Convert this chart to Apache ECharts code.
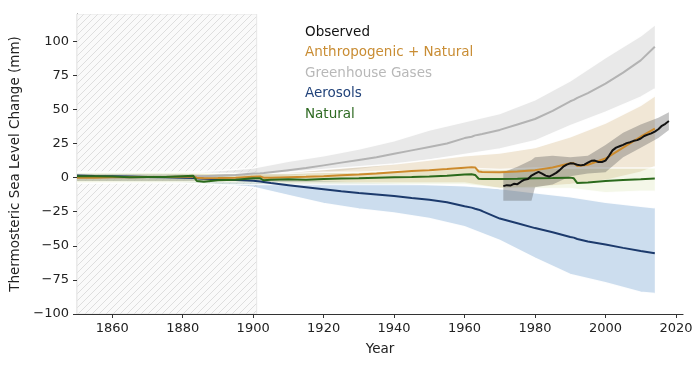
<!DOCTYPE html>
<html><head><meta charset="utf-8">
<script src="https://cdn.jsdelivr.net/npm/echarts@6/dist/echarts.min.js"></script>
<style>html,body{margin:0;padding:0;background:#fff}#c{width:700px;height:368px}</style>
</head><body><div id="c"></div>
<script>
// ---------- data ----------
const xTicks = [1860, 1880, 1900, 1920, 1940, 1960, 1980, 2000, 2020];
const yTicks = [-100, -75, -50, -25, 0, 25, 50, 75, 100];
const refPeriod = [1850, 1901];

const modelYears = [
  1850,1855,1860,1865,1870,1875,1880,1883,1884,1886,
  1890,1895,1900,1902,1903,1905,1910,1915,1920,1925,
  1930,1935,1940,1945,1950,1955,1960,1962,1963,1964,
  1965,1970,1975,1980,1985,1990,1991,1992,1995,2000,
  2005,2010,2014];
const ghgMean = [
  0,0,0,0,0.3,0.5,0.8,1,1,1,
  1.5,2,3,3.2,3.4,4,5.5,7,9,11,
  13,15,17.5,20,22.5,25,29,30,31,31.5,
  32,35,39,43,49,56,57,58.5,62,69,
  77,86,96];
const anthroMean = [
  0,0,0.2,0.3,0.5,0.5,0.7,0.8,0,-0.5,
  -0.3,0,0.6,0.8,0,0,0.3,0.6,1,1.8,
  2.3,3,4,4.8,5.5,6.3,7.3,7.7,7.5,4.5,
  4.2,4,4.5,5.5,7.5,10.5,10.5,8.5,9.5,14,
  22,30,36];
const aerosolMean = [
  1.5,1.2,1,0.8,0.5,0.3,0,-0.3,-0.5,-0.8,
  -1.2,-1.7,-2.3,-2.8,-3.2,-4,-5.5,-7,-8.5,-10,
  -11.2,-12.3,-13.5,-15,-16.3,-18,-21,-22,-22.8,-23.5,
  -24.5,-30,-33.5,-37,-40,-43.5,-44,-45,-46.8,-49,
  -51.5,-53.8,-55.5];
const naturalMean = [
  1,1,0.8,0.3,0.5,0.5,1,1.3,-2.5,-3,
  -2,-1.5,-0.5,-0.5,-2,-1.5,-1.2,-1.5,-1,-0.7,
  -0.5,0,0.3,0.5,0.8,1.3,2.3,2.5,2,-0.8,
  -1,-1,-0.8,-0.5,-0.3,0,-0.5,-4,-3.5,-2.5,
  -1.8,-1.2,-0.6];

const bandYears = [1850,1860,1870,1880,1890,1900,1910,1920,1930,1940,1950,1960,1970,1980,1990,2000,2010,2014];
const ghgHigh     = [4,4,4,4,5,7,12,16,21,27,35,41,47,57,71,88,104,112];
const ghgLow      = [-4,-4,-3,-3,-2,-1,1,3,6,9,13,17,21,27,38,48,59,65];
const anthroHigh  = [3,3,3,3,3,3,4,6,8,10,13,16,18,22,30,40,53,60];
const anthroLow   = [-3,-3,-3,-3,-3,-3,-4,-4,-4,-4,-4,-4,-8,-7,-5,-2,4,8];
const aerosolHigh = [4,3.5,3,3,2,0,-1,-2,-3,-4,-5,-6,-8,-11,-14,-18,-21,-22];
const aerosolLow  = [-3,-3,-3.5,-4,-5,-7,-13,-19,-23,-26,-30,-36,-46,-59,-71,-77,-84,-85];
const naturalHigh = [4,4,4,4,3,3,3,4,4,5,5,7,6,7,7,7,7,7];
const naturalLow  = [-4,-4,-4,-4,-5,-5,-5,-5,-5,-5,-5,-5,-8,-8,-8,-11,-10,-10];

const obsYears = [1971,1972,1973,1974,1975,1976,1977,1978,1979,1980,1981,1982,1983,1984,1985,1986,1987,1988,1989,1990,
  1991,1992,1993,1994,1995,1996,1997,1998,1999,2000,2001,2002,2003,2004,2005,2006,2007,2008,2009,2010,
  2011,2012,2013,2014,2015,2016,2017,2018];
const obsValues = [-6.2,-5.5,-5.8,-4.5,-4.8,-3,-1.5,-1,1.5,3,4.3,3,1.5,0.8,2,3.5,5.5,8,9.5,10.5,
  10.3,9.5,9,9.5,11,12.3,12.5,11.5,11.5,12.5,16,20,22,23,24,25.3,26,27,27.5,28.7,
  30.5,31.5,32.5,33.8,35.5,38,39.5,41.5];
const obsBandYears = [1971,1975,1979,1980,1985,1990,1995,2000,2005,2010,2015,2018];
const obsHigh = [4,8,13,15,16,15,16,24,33,39,44,48];
const obsLow  = [-17,-17,-17,-7,-5,1,3,4,15,22,29,35];

const legendItems = ['Observed', 'Anthropogenic + Natural', 'Greenhouse Gases', 'Aerosols', 'Natural'];
// ---------- styles ----------
const FONT = 'DejaVu Sans';
const C = {obs:'#111111', anthro:'#cc8a2c', ghg:'#b3b3b3', aer:'#1c3a6c', nat:'#2b6a1c'};
const legendColors = ['#111111', '#c98d34', '#b8b8b8', '#22437a', '#2e6a22'];

function pair(xs, ys) { return xs.map((x, i) => [x, ys[i]]); }
function bandSeries(xs, lo, hi, fill, edge) {
  return {
    type: 'custom', silent: true, clip: true,
    encode: {x: 0, y: [1, 2]},
    data: xs.map((x, i) => [x, lo[i], hi[i]]),
    renderItem(params, api) {
      if (params.dataIndex !== 0) return null;
      const up = [], dn = [];
      for (let i = 0; i < xs.length; i++) {
        up.push(api.coord([api.value(0, i), api.value(2, i)]));
        dn.push(api.coord([api.value(0, i), api.value(1, i)]));
      }
      const children = [{type: 'polygon', shape: {points: up.concat(dn.slice().reverse())}, style: {fill: fill}}];
      if (edge) {
        children.push({type: 'polyline', shape: {points: up}, style: {stroke: edge, lineWidth: 1.5, fill: null}});
        children.push({type: 'polyline', shape: {points: dn}, style: {stroke: edge, lineWidth: 1.5, fill: null}});
      }
      return {type: 'group', children};
    }
  };
}
function lineSeries(xs, ys, color, w) {
  return {type: 'line', data: pair(xs, ys), symbol: 'none', silent: true,
    lineStyle: {color, width: w}, itemStyle: {color}, z: 3};
}

// hatch pattern
const pc = document.createElement('canvas');
pc.width = 7; pc.height = 7;
const g = pc.getContext('2d');
g.fillStyle = '#fafafa'; g.fillRect(0, 0, 7, 7);
g.strokeStyle = '#dedede'; g.lineWidth = 1;
g.beginPath();
g.moveTo(-1, 8); g.lineTo(8, -1);
g.moveTo(-1, 1); g.lineTo(1, -1);
g.moveTo(6, 8); g.lineTo(8, 6);
g.stroke();

const chart = echarts.init(document.getElementById('c'), null, {renderer: 'canvas'});
const option = {
  animation: false,
  backgroundColor: '#fff',
  grid: {left: 77, right: 17, top: 14, bottom: 54, containLabel: false},
  xAxis: {
    type: 'value', min: 1850, max: 2022,
    axisLine: {show: true, onZero: false, lineStyle: {color: '#333', width: 1.2}},
    axisTick: {show: true, length: 4, customValues: xTicks, lineStyle: {color: '#333'}},
    axisLabel: {customValues: xTicks, fontSize: 13, color: '#222', margin: 8, fontFamily: FONT,
      formatter: v => String(v)},
    splitLine: {show: false},
    name: 'Year', nameLocation: 'middle', nameGap: 28,
    nameTextStyle: {fontSize: 13.5, color: '#222', fontFamily: FONT}
  },
  yAxis: {
    type: 'value', min: -100, max: 120,
    axisLine: {show: true, onZero: false, lineStyle: {color: '#333', width: 1.2}},
    axisTick: {show: true, length: 4, customValues: yTicks, lineStyle: {color: '#333'}},
    axisLabel: {customValues: yTicks, fontSize: 13, color: '#222', margin: 8, fontFamily: FONT,
      formatter: v => String(v).replace('-', '\u2212')},
    splitLine: {show: false},
    name: 'Thermosteric Sea Level Change (mm)', nameLocation: 'middle', nameGap: 50,
    nameTextStyle: {fontSize: 13.5, color: '#222', fontFamily: FONT}
  },
  series: [
    {
      type: 'custom', silent: true, clip: true, encode: {x: [0, 1]},
      data: [refPeriod],
      renderItem(params, api) {
        const x0 = api.coord([api.value(0), 0])[0];
        const x1 = api.coord([api.value(1), 0])[0];
        const cs = params.coordSys;
        return {type: 'rect', shape: {x: x0, y: cs.y, width: x1 - x0, height: cs.height},
          style: {fill: {image: pc, repeat: 'repeat'}, stroke: '#e6e6e6', lineWidth: 1}};
      }
    },
    bandSeries(bandYears, ghgLow, ghgHigh, 'rgba(215,215,215,0.55)', 'rgba(255,255,255,0.9)'),
    bandSeries(bandYears, aerosolLow, aerosolHigh, 'rgba(120,165,210,0.38)', 'rgba(255,255,255,0.9)'),
    bandSeries(bandYears, anthroLow, anthroHigh, 'rgba(210,175,120,0.3)', 'rgba(255,255,255,0.9)'),
    bandSeries(bandYears, naturalLow, naturalHigh, 'rgba(200,215,140,0.2)', 'rgba(255,255,255,0.8)'),
    bandSeries(obsBandYears, obsLow, obsHigh, 'rgba(90,90,90,0.35)', null),
    lineSeries(modelYears, ghgMean, C.ghg, 2),
    lineSeries(modelYears, aerosolMean, C.aer, 2),
    lineSeries(modelYears, anthroMean, C.anthro, 2),
    lineSeries(modelYears, naturalMean, C.nat, 2),
    lineSeries(obsYears, obsValues, C.obs, 2)
  ],
  graphic: [
    ...legendItems.map((t, i) => ({
      type: 'text', left: 305, top: 25 + i * 20.5, silent: true,
      style: {text: t, fill: legendColors[i], font: '13.5px "DejaVu Sans"'}
    })),
    {type: 'text', x: 165, y: 290, silent: true,
      style: {text: 'Reference Period', fill: '#222', font: '13.5px "DejaVu Sans"', align: 'center', verticalAlign: 'middle'}},
    {type: 'text', x: 165, y: 303, silent: true,
      style: {text: '(1850-1900)', fill: '#222', font: '10.5px "DejaVu Sans"', align: 'center', verticalAlign: 'middle'}}
  ]
};
chart.setOption(option);
</script>
</body></html>
